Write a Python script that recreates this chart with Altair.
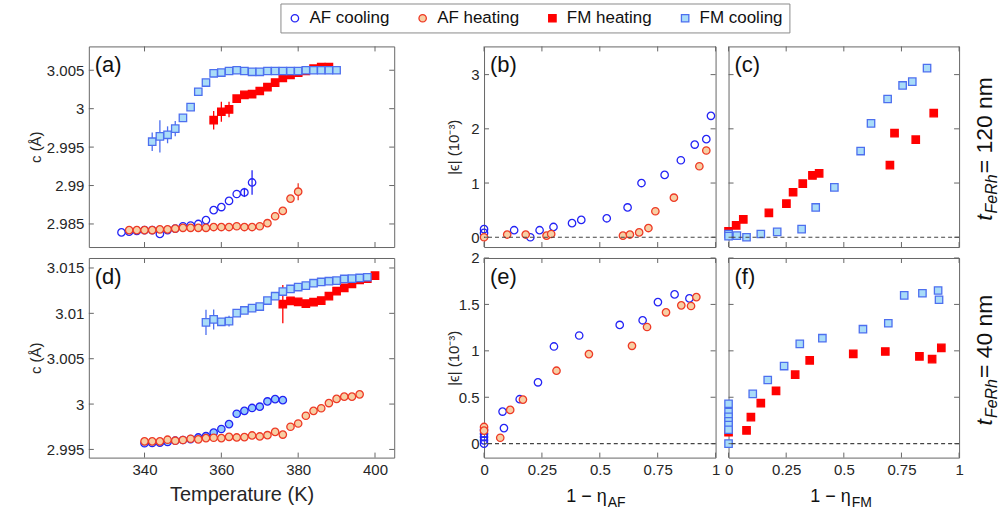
import altair as alt
import pandas as pd

FONT = "Liberation Sans"
INK = "#262626"
FRAME = "#666666"

SERIES = ["AF cooling", "AF heating", "FM heating", "FM cooling"]
SHAPES = ["circle", "circle", "square", "square"]
FILLS = ["transparent", "#f7cfa4", "#ff0000", "#a9dcf8"]
STROKES = ["#2323f5", "#ee3a26", "#ff0000", "#4d6fef"]
AFC_FILL_THIN = "#93c9fb"
THICKNESS = ["120 nm", "40 nm"]

# ---------------- (a) lattice parameter c vs T, 120 nm film ----------------
a_afc_T = [334, 336, 338, 340, 342, 344, 346, 348, 350, 352, 354, 356, 358, 360, 362, 364, 366, 368]
a_afc_c = [2.9839, 2.9840, 2.9841, 2.9842, 2.9842, 2.9837, 2.9842, 2.9844, 2.9847, 2.9848,
           2.9850, 2.9855, 2.9868, 2.9872, 2.9880, 2.9889, 2.9891, 2.9904]
a_afc_err = {366: 0.0006, 368: 0.0016}

a_afh_T = [336, 338, 340, 342, 344, 346, 348, 350, 352, 354, 356, 358, 360, 362, 364, 366,
           368, 370, 372, 374, 376, 378, 380]
a_afh_c = [2.9842, 2.9842, 2.9842, 2.9842, 2.9843, 2.9843, 2.9844, 2.9845, 2.9845, 2.9845,
           2.9845, 2.9846, 2.9846, 2.9846, 2.9847, 2.9846, 2.9846, 2.9847, 2.9851, 2.9860,
           2.9867, 2.9883, 2.9892]
a_afh_err = {378: 0.0004, 380: 0.0011}

a_fmh_T = [358, 360, 362, 364, 366, 368, 370, 372, 374, 376, 378, 380, 382, 384, 386, 388]
a_fmh_c = [2.9985, 2.9996, 2.9999, 3.0013, 3.0018, 3.0019, 3.0023, 3.0028, 3.0034, 3.0040,
           3.0044, 3.0047, 3.0049, 3.0052, 3.0054, 3.0054]
a_fmh_err = {358: 0.0012, 360: 0.0013, 362: 0.0010}

a_fmc_T = [342, 344, 346, 348, 350, 352, 354, 356, 358, 360, 362, 364, 366, 368, 370, 372,
           374, 376, 378, 380, 382, 384, 386, 388, 390]
a_fmc_c = [2.9957, 2.9964, 2.9966, 2.9974, 2.9988, 3.0002, 3.0022, 3.0034, 3.0046, 3.0047,
           3.0049, 3.0050, 3.0049, 3.0048, 3.0048, 3.0049, 3.0049, 3.0049, 3.0049, 3.0049,
           3.0050, 3.0050, 3.0050, 3.0050, 3.0050]
a_fmc_err = {342: 0.0012, 344: 0.0021, 346: 0.0011, 348: 0.0010}

# ---------------- (d) lattice parameter c vs T, 40 nm film ----------------
d_afc_T = [340, 342, 344, 346, 348, 350, 352, 354, 356, 358, 360, 362, 364, 366, 368, 370,
           372, 374, 376]
d_afc_c = [2.99568, 2.99571, 2.99575, 2.99582, 2.99596, 2.99604, 2.99614, 2.99632, 2.99646,
           2.99686, 2.99725, 2.99779, 2.99893, 2.99925, 2.99957, 2.99971, 3.00029, 3.00054,
           3.00043]

d_afh_T = [340, 342, 344, 346, 348, 350, 352, 354, 356, 358, 360, 362, 364, 366, 368, 370,
           372, 374, 376, 378, 380, 382, 384, 386, 388, 390, 392, 394, 396]
d_afh_c = [2.99589, 2.99589, 2.99589, 2.99607, 2.99596, 2.99604, 2.99618, 2.99611, 2.99625,
           2.99629, 2.99625, 2.99639, 2.99632, 2.99636, 2.99654, 2.99643, 2.99657, 2.99693,
           2.99664, 2.99750, 2.99786, 2.99871, 2.99925, 2.99954, 3.00011, 3.00057, 3.00082,
           3.00082, 3.00107]
d_afh_err = {392: 0.0002, 394: 0.0002}

d_fmh_T = [376, 378, 380, 382, 384, 386, 388, 390, 392, 394, 396, 398, 400]
d_fmh_c = [3.01101, 3.01138, 3.01127, 3.01108, 3.01123, 3.01141, 3.01189, 3.01244, 3.01280,
           3.01324, 3.01368, 3.01383, 3.01416]
d_fmh_err = {376: 0.0021, 380: 0.0003, 382: 0.0003}

d_fmc_T = [356, 358, 360, 362, 364, 366, 368, 370, 372, 374, 376, 378, 380, 382, 384, 386,
           388, 390, 392, 394, 396, 398]
d_fmc_c = [3.00900, 3.00933, 3.00907, 3.00914, 3.01002, 3.01032, 3.01057, 3.01075, 3.01141,
           3.01189, 3.01240, 3.01269, 3.01290, 3.01306, 3.01332, 3.01346, 3.01354, 3.01361,
           3.01379, 3.01383, 3.01390, 3.01398]
d_fmc_err = {356: 0.0014, 358: 0.0011, 362: 0.0006}

# ---------------- (b) |strain| vs AF fraction, 120 nm ----------------
b_afc_x = [0, 0, 0.13, 0.20, 0.24, 0.30, 0.38, 0.42, 0.53, 0.62, 0.68, 0.78, 0.85, 0.91, 0.96, 0.98]
b_afc_y = [0.15, 0.08, 0.13, 0.00, 0.13, 0.19, 0.26, 0.32, 0.35, 0.55, 1.00, 1.15, 1.42, 1.71, 1.81, 2.24]
b_afh_x = [0, 0.10, 0.18, 0.27, 0.29, 0.60, 0.63, 0.67, 0.71, 0.74, 0.82, 0.93, 0.96]
b_afh_y = [0.00, 0.05, 0.05, 0.03, 0.06, 0.03, 0.05, 0.09, 0.17, 0.48, 0.73, 1.31, 1.60]

# ---------------- (c) |strain| vs FM fraction, 120 nm ----------------
c_fmh_x = [0, 0.033, 0.064, 0.175, 0.251, 0.28, 0.322, 0.364, 0.393, 0.70, 0.72, 0.812, 0.89]
c_fmh_y = [0.11, 0.22, 0.33, 0.45, 0.62, 0.83, 0.99, 1.14, 1.18, 1.33, 1.92, 1.80, 2.29]
c_fmc_x = [0, 0, 0.036, 0.078, 0.14, 0.211, 0.317, 0.378, 0.459, 0.573, 0.618, 0.69, 0.755, 0.797, 0.861]
c_fmc_y = [0.06, 0.02, 0.03, 0.00, 0.06, 0.10, 0.15, 0.55, 0.92, 1.59, 2.10, 2.55, 2.80, 2.87, 3.12]

# ---------------- (e) |strain| vs AF fraction, 40 nm ----------------
e_afc_x = [0, 0, 0, 0, 0, 0.08, 0.086, 0.154, 0.233, 0.302, 0.411, 0.586, 0.685, 0.751, 0.823, 0.887]
e_afc_y = [0.15, 0.107, 0.071, 0.036, 0.0, 0.346, 0.168, 0.479, 0.661, 1.047, 1.165, 1.279, 1.329, 1.525, 1.608, 1.565]
e_afh_x = [0, 0, 0.07, 0.113, 0.168, 0.313, 0.453, 0.639, 0.704, 0.786, 0.852, 0.894, 0.917]
e_afh_y = [0.18, 0.14, 0.064, 0.364, 0.475, 0.786, 0.965, 1.054, 1.257, 1.415, 1.49, 1.483, 1.579]

# ---------------- (f) |strain| vs FM fraction, 40 nm ----------------
f_fmh_x = [0, 0.078, 0.097, 0.14, 0.206, 0.289, 0.352, 0.541, 0.68, 0.828, 0.883, 0.923]
f_fmh_y = [0.125, 0.143, 0.286, 0.436, 0.568, 0.743, 0.897, 0.968, 0.993, 0.94, 0.911, 1.032]
f_fmc_x = [0, 0, 0, 0, 0, 0, 0, 0.105, 0.17, 0.241, 0.309, 0.407, 0.583, 0.693, 0.762, 0.841, 0.909, 0.913]
f_fmc_y = [0.43, 0.34, 0.29, 0.24, 0.20, 0.15, 0.0, 0.536, 0.686, 0.836, 1.075, 1.136, 1.233, 1.297, 1.597, 1.62, 1.65, 1.55]

# axis ticks and limits
T_TICKS = [340, 360, 380, 400]
T_DOMAIN = [325.5, 405]
A_C_TICKS = [2.985, 2.99, 2.995, 3.0, 3.005]
A_C_DOMAIN = [2.982, 3.0081]
D_C_TICKS = [2.995, 3.0, 3.005, 3.01, 3.015]
D_C_DOMAIN = [2.9941, 3.0161]
ETA_TICKS = [0, 0.25, 0.5, 0.75, 1]
ETA_DOMAIN = [0, 1]
EPS_TOP_TICKS = [0, 1, 2, 3]
EPS_TOP_DOMAIN = [-0.18, 3.52]
EPS_BOT_TICKS = [0, 0.5, 1, 1.5, 2]
EPS_BOT_DOMAIN = [-0.15, 2.0]
ZERO = [0]

# panel sizes (plot areas) and the gaps of the grid
W_T, W_GAP, W_AF, W_FM = 306, 64, 232, 231
H_TOP, H_BOT = 201, 200
TICK_LEN = 5

LEG = alt.Legend(
    orient="none", legendX=192, legendY=-43, direction="horizontal", title=None,
    labelFont=FONT, labelFontSize=17, labelColor="#111111", labelOffset=6,
    symbolSize=55, symbolStrokeWidth=1.3, columnPadding=24, padding=6,
    strokeColor="#8a8a8a", fillColor="white",
)
SHAPE_SCALE = alt.Scale(domain=SERIES, range=SHAPES)
FILL_SCALE = alt.Scale(domain=SERIES, range=FILLS)
STROKE_SCALE = alt.Scale(domain=SERIES, range=STROKES)


def series_df(name, xs, ys, errs=None):
    errs = errs or {}
    e = [errs.get(x, 0.0) for x in xs]
    return pd.DataFrame({"x": xs, "y": ys, "series": name, "err": e})


def pos(field, scale, axis):
    return dict(field=field, type="quantitative", scale=scale, axis=axis)


def panel(W, H, xdom, ydom, xticks, yticks, series, tag, xaxis=None, yaxis=None,
          zero=False, extra=()):
    xs = alt.Scale(domain=xdom, nice=False, zero=False)
    ys = alt.Scale(domain=ydom, nice=False, zero=False)

    def X(field="x"):
        return alt.X(**pos(field, xs, xaxis))

    def Y(field="y"):
        return alt.Y(**pos(field, ys, yaxis))

    layers = []
    for df, fill_value in series:
        name = df["series"].iloc[0]
        bars = df[df["err"] > 0].assign(lo=lambda d: d.y - d.err, hi=lambda d: d.y + d.err)
        if len(bars):
            layers.append(
                alt.Chart(bars)
                .mark_rule(color=STROKES[SERIES.index(name)], strokeWidth=1.3)
                .encode(x=X(), y=Y("lo"), y2="hi:Q")
            )
        enc = dict(
            x=X(), y=Y(),
            shape=alt.Shape("series:N", scale=SHAPE_SCALE, legend=LEG),
            stroke=alt.Stroke("series:N", scale=STROKE_SCALE, legend=LEG),
        )
        if fill_value:
            enc["fill"] = alt.value(fill_value)
        else:
            enc["fill"] = alt.Fill("series:N", scale=FILL_SCALE, legend=LEG)
        layers.append(
            alt.Chart(df).mark_point(size=55, strokeWidth=1.3, opacity=1, fillOpacity=1).encode(**enc)
        )

    # inward ticks on all four sides of the box
    xt = alt.Chart(pd.DataFrame({"x": xticks})).mark_rule(color=FRAME, strokeWidth=1)
    yt = alt.Chart(pd.DataFrame({"y": yticks})).mark_rule(color=FRAME, strokeWidth=1)
    layers += [
        xt.encode(x=X(), y=alt.value(0), y2=alt.value(TICK_LEN)),
        xt.encode(x=X(), y=alt.value(H - TICK_LEN), y2=alt.value(H)),
        yt.encode(y=Y(), x=alt.value(0), x2=alt.value(TICK_LEN)),
        yt.encode(y=Y(), x=alt.value(W - TICK_LEN), x2=alt.value(W)),
    ]
    if zero:
        layers.append(
            alt.Chart(pd.DataFrame({"y": ZERO}))
            .mark_rule(color="#444444", strokeDash=[4, 3], strokeWidth=1.1)
            .encode(y=Y())
        )
    layers.append(
        alt.Chart(pd.DataFrame({"t": [tag]}))
        .mark_text(align="left", baseline="middle", font=FONT, fontSize=22, color="#111111")
        .encode(text="t:N", x=alt.value(6), y=alt.value(19))
    )
    layers.extend(extra)
    return alt.layer(*layers).properties(width=W, height=H)


def gap(H):
    # empty cell that widens the space between the temperature column and the strain columns
    return (
        alt.Chart(pd.DataFrame({"t": [""]}))
        .mark_text()
        .encode(text="t:N", x=alt.value(0), y=alt.value(0))
        .properties(width=W_GAP, height=H, view=alt.ViewBackground(strokeOpacity=0))
    )


def text_piece(txt, x, y, size, italic=False, angle=0, align="left", baseline="alphabetic"):
    return (
        alt.Chart(pd.DataFrame({"t": [txt]}))
        .mark_text(align=align, baseline=baseline, font=FONT, fontSize=size,
                   fontStyle="italic" if italic else "normal", angle=angle, color="#111111")
        .encode(text="t:N", x=alt.value(x), y=alt.value(y))
    )


def thickness_label(W, H, thickness):
    # rotated "t_FeRh = ... nm" to the right of the panel
    rest = " = " + thickness
    main, sub = 23, 16
    w_t = 0.278 * main
    w_sub = 2.445 * sub
    w_rest = (0.278 * 3 + 0.584 + 0.556 * (len(thickness) - 3) + 0.556 + 0.833) * main
    y0 = H / 2 + (w_t + w_sub + w_rest) / 2
    xb = W + 33
    return [
        text_piece("t", xb, y0, main, italic=True, angle=270),
        text_piece("FeRh", xb + 5, y0 - w_t - 1, sub, italic=True, angle=270),
        text_piece(rest, xb, y0 - w_t - w_sub - 2, main, angle=270),
    ]


def eta_title(W, H, sub_text):
    cx = W / 2
    return [
        text_piece("1 − η", cx + 7, H + 44, 18, align="right"),
        text_piece(sub_text, cx + 8, H + 50, 14),
    ]


def y_axis(values, fmt, title, title_x):
    return alt.Axis(values=values, format=fmt, title=title, titleX=title_x,
                    titleBaseline="middle")


pa = panel(
    W_T, H_TOP, T_DOMAIN, A_C_DOMAIN, T_TICKS, A_C_TICKS,
    [(series_df("AF cooling", a_afc_T, a_afc_c, a_afc_err), None),
     (series_df("AF heating", a_afh_T, a_afh_c, a_afh_err), None),
     (series_df("FM heating", a_fmh_T, a_fmh_c, a_fmh_err), None),
     (series_df("FM cooling", a_fmc_T, a_fmc_c, a_fmc_err), None)],
    "(a)", yaxis=y_axis(A_C_TICKS, ".4~f", "c (Å)", -53),
)

pd_ = panel(
    W_T, H_BOT, T_DOMAIN, D_C_DOMAIN, T_TICKS, D_C_TICKS,
    [(series_df("AF cooling", d_afc_T, d_afc_c), AFC_FILL_THIN),
     (series_df("AF heating", d_afh_T, d_afh_c, d_afh_err), None),
     (series_df("FM heating", d_fmh_T, d_fmh_c, d_fmh_err), None),
     (series_df("FM cooling", d_fmc_T, d_fmc_c, d_fmc_err), None)],
    "(d)", yaxis=y_axis(D_C_TICKS, ".4~f", "c (Å)", -53),
    xaxis=alt.Axis(values=T_TICKS, format="d", title="Temperature (K)", titleFontSize=20,
                   titlePadding=7),
)

eps_title = "|ϵ| (10⁻³)"

pb = panel(
    W_AF, H_TOP, ETA_DOMAIN, EPS_TOP_DOMAIN, ETA_TICKS, EPS_TOP_TICKS,
    [(series_df("AF cooling", b_afc_x, b_afc_y), None),
     (series_df("AF heating", b_afh_x, b_afh_y), None)],
    "(b)", zero=True,
    yaxis=y_axis(EPS_TOP_TICKS, ".1~f", eps_title, -31),
)

pc = panel(
    W_FM, H_TOP, ETA_DOMAIN, EPS_TOP_DOMAIN, ETA_TICKS, EPS_TOP_TICKS,
    [(series_df("FM heating", c_fmh_x, c_fmh_y), None),
     (series_df("FM cooling", c_fmc_x, c_fmc_y), None)],
    "(c)", zero=True, extra=thickness_label(W_FM, H_TOP, THICKNESS[0]),
)

pe = panel(
    W_AF, H_BOT, ETA_DOMAIN, EPS_BOT_DOMAIN, ETA_TICKS, EPS_BOT_TICKS,
    [(series_df("AF cooling", e_afc_x, e_afc_y), None),
     (series_df("AF heating", e_afh_x, e_afh_y), None)],
    "(e)", zero=True,
    xaxis=alt.Axis(values=ETA_TICKS, format=".2~f", title=""),
    yaxis=y_axis(EPS_BOT_TICKS, ".1~f", eps_title, -31),
    extra=eta_title(W_AF, H_BOT, "AF"),
)

pf = panel(
    W_FM, H_BOT, ETA_DOMAIN, EPS_BOT_DOMAIN, ETA_TICKS, EPS_BOT_TICKS,
    [(series_df("FM heating", f_fmh_x, f_fmh_y), None),
     (series_df("FM cooling", f_fmc_x, f_fmc_y), None)],
    "(f)", zero=True,
    xaxis=alt.Axis(values=ETA_TICKS, format=".2~f", title=""),
    extra=eta_title(W_FM, H_BOT, "FM") + thickness_label(W_FM, H_BOT, THICKNESS[1]),
)

chart = (
    alt.concat(pa, gap(H_TOP), pb, pc, pd_, gap(H_BOT), pe, pf,
               columns=4, spacing={"row": 11, "column": 13}, bounds="flush")
    .properties(padding={"left": 28, "top": 2, "right": 0, "bottom": 0}, background="white")
    .configure_axis(
        labelFont=FONT, labelFontSize=15, labelColor=INK, titleFont=FONT, titleFontSize=15,
        titleColor=INK, titleFontWeight="normal", ticks=False, domain=False, grid=False,
        labelFlush=False, labelOverlap=False, labelPadding=5,
    )
    .configure_view(stroke=FRAME, strokeWidth=1)
)

chart.save("out.html", embed_options={"renderer": "svg", "actions": False})
